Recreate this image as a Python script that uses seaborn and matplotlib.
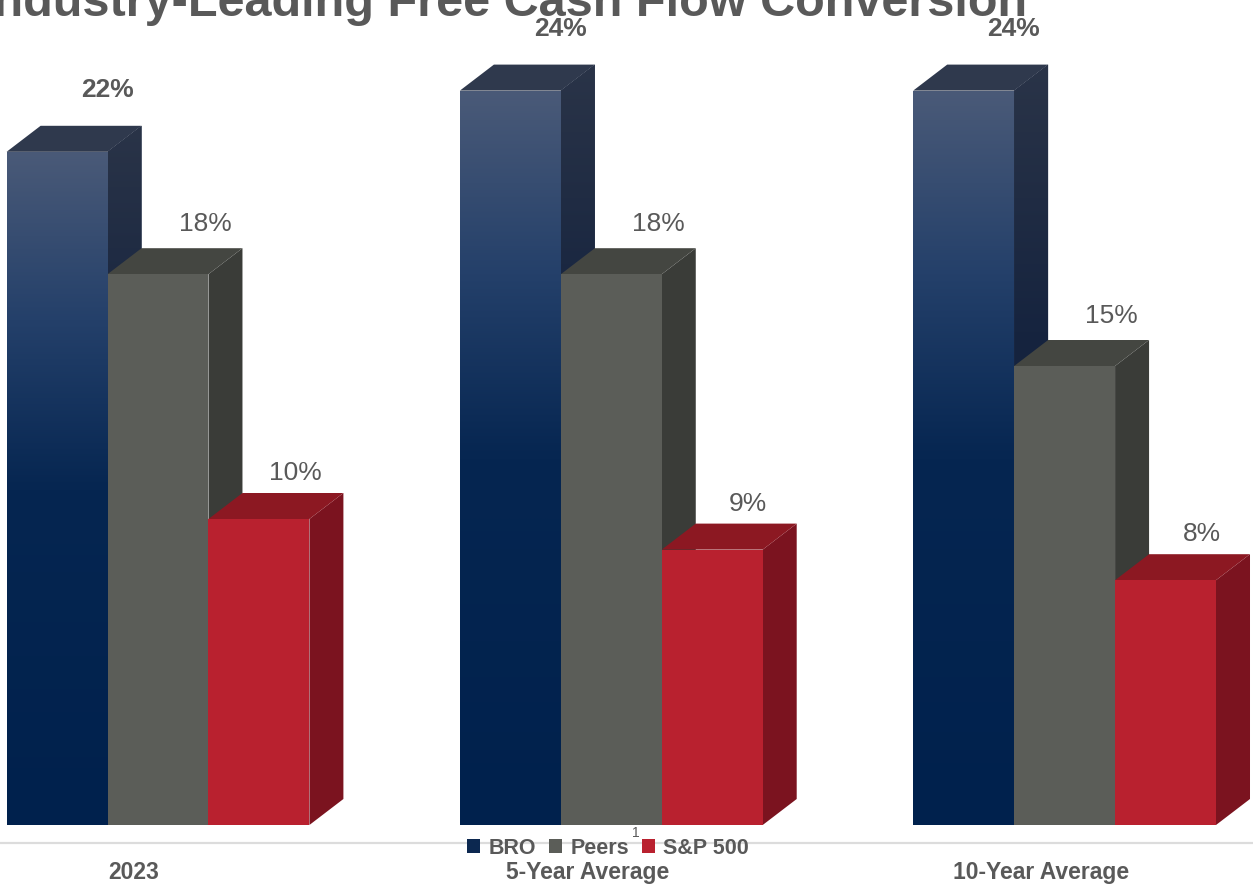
import numpy as np
import pandas as pd
import matplotlib
matplotlib.use("Agg")
import matplotlib.pyplot as plt
import seaborn as sns
from matplotlib.patches import Polygon, Patch
from matplotlib.colors import LinearSegmentedColormap

# ---- data -------------------------------------------------------------
categories = ["2023", "5-Year Average", "10-Year Average"]
series = ["BRO", "Peers", "S&P 500"]
bro = [22, 24, 24]
peers = [18, 18, 15]
sp500 = [10, 9, 8]
title = "Industry-Leading Free Cash Flow Conversion"

df = pd.DataFrame({
    "category": categories * len(series),
    "series": [s for s in series for _ in categories],
    "value": bro + peers + sp500,
})

# ---- styling ----------------------------------------------------------
sns.set_style("white")
plt.rcParams["font.family"] = ["Liberation Sans", "DejaVu Sans"]

TEXT = "#595959"
front_colors = {"BRO": "#0b2650", "Peers": "#5b5d58", "S&P 500": "#b9212f"}
side_colors = {"BRO": "#14233f", "Peers": "#3a3c38", "S&P 500": "#7b131f"}
top_colors = {"BRO": "#2f394d", "Peers": "#444641", "S&P 500": "#8c1822"}
bro_front_stops = [(0.0, "#4a5a78"), (0.25, "#24406a"), (0.5, "#062651"), (1.0, "#00214d")]
bro_side_stops = [(0.0, "#2a3448"), (0.35, "#16243f"), (1.0, "#0b1b37")]
# label offsets (pixels right, pixels up from the bar top)
label_offset = {"BRO": (50, 62), "Peers": (47, 50), "S&P 500": (36, 46)}

W, H = 1253, 888
PX_X = 453.3          # pixels per category unit
PX_Y = 30.6           # pixels per percentage point
X0_PX = 158           # pixel position of the first category
BASE_PX = 825         # pixel row of the zero line
DEPTH_X, DEPTH_Y = 34, 26

fig = plt.figure(figsize=(W / 100, H / 100), dpi=100)
ax = fig.add_axes([0, 0, 1, 1])

sns.barplot(data=df, x="category", y="value", hue="series",
            order=categories, hue_order=series, palette=front_colors,
            width=0.668, errorbar=None, linewidth=0, saturation=1,
            legend=False, ax=ax)

xlim = (-X0_PX / PX_X, (W - X0_PX) / PX_X)
ylim = (-(H - BASE_PX) / PX_Y, BASE_PX / PX_Y)
dx = DEPTH_X / PX_X
dy = DEPTH_Y / PX_Y


def gradient_fill(clip, extent, stops, z):
    cmap = LinearSegmentedColormap.from_list("g", stops)
    arr = np.linspace(0, 1, 256).reshape(-1, 1)
    im = ax.imshow(arr, cmap=cmap, extent=extent, aspect="auto",
                   origin="upper", zorder=z, interpolation="bicubic")
    im.set_clip_path(clip)


for k, (name, container) in enumerate(zip(series, ax.containers)):
    for bar in container:
        x0, w, h = bar.get_x(), bar.get_width(), bar.get_height()
        z = 10 + 3 * k
        bar.set_zorder(z + 2)
        side = Polygon([(x0 + w, 0), (x0 + w + dx, dy), (x0 + w + dx, h + dy), (x0 + w, h)],
                       closed=True, facecolor=side_colors[name], edgecolor="none", zorder=z)
        topf = Polygon([(x0, h), (x0 + w, h), (x0 + w + dx, h + dy), (x0 + dx, h + dy)],
                       closed=True, facecolor=top_colors[name], edgecolor="none", zorder=z + 1)
        ax.add_patch(side)
        ax.add_patch(topf)
        if name == "BRO":
            gradient_fill(bar, [x0, x0 + w, 0, h], bro_front_stops, z + 2.1)
            gradient_fill(side, [x0 + w, x0 + w + dx, 0, h + dy], bro_side_stops, z + 0.1)
        ox, oy = label_offset[name]
        ax.text(x0 + w / 2 + ox / PX_X, h + oy / PX_Y, f"{h:.0f}%",
                ha="center", va="center", fontsize=19, color=TEXT,
                fontweight="bold" if name == "BRO" else "normal", zorder=50)

# floor line and category labels
ax.axhline(-18 / PX_Y, color="#dcdcdc", lw=1.6, zorder=1)
for i, cat in enumerate(categories):
    ax.text(i - 24 / PX_X, -47 / PX_Y, cat, ha="center", va="center",
            fontsize=16.5, fontweight="bold", color=TEXT)

ax.set_xlim(*xlim)
ax.set_ylim(*ylim)
ax.axis("off")

# legend
legend_colors = {"BRO": "#0c2850", "Peers": "#5b5d58", "S&P 500": "#b9212f"}
handles = [Patch(facecolor=legend_colors[s], edgecolor="none") for s in series]
fig.legend(handles, series, loc="center", bbox_to_anchor=(608 / W, 1 - 848 / H),
           ncol=3, frameon=False, prop=dict(weight="bold", size=15.5), labelcolor=TEXT,
           handlelength=0.6, handleheight=0.6, handletextpad=0.4, columnspacing=0.6,
           borderpad=0, borderaxespad=0)
fig.text(636 / W, 1 - 833 / H, "1", fontsize=10, color=TEXT, ha="center", va="center")

fig.text(504 / W, 1 - 16 / H, title, ha="center", va="baseline",
         fontsize=35, fontweight="bold", color=TEXT)

fig.savefig("out.png", dpi=100)
